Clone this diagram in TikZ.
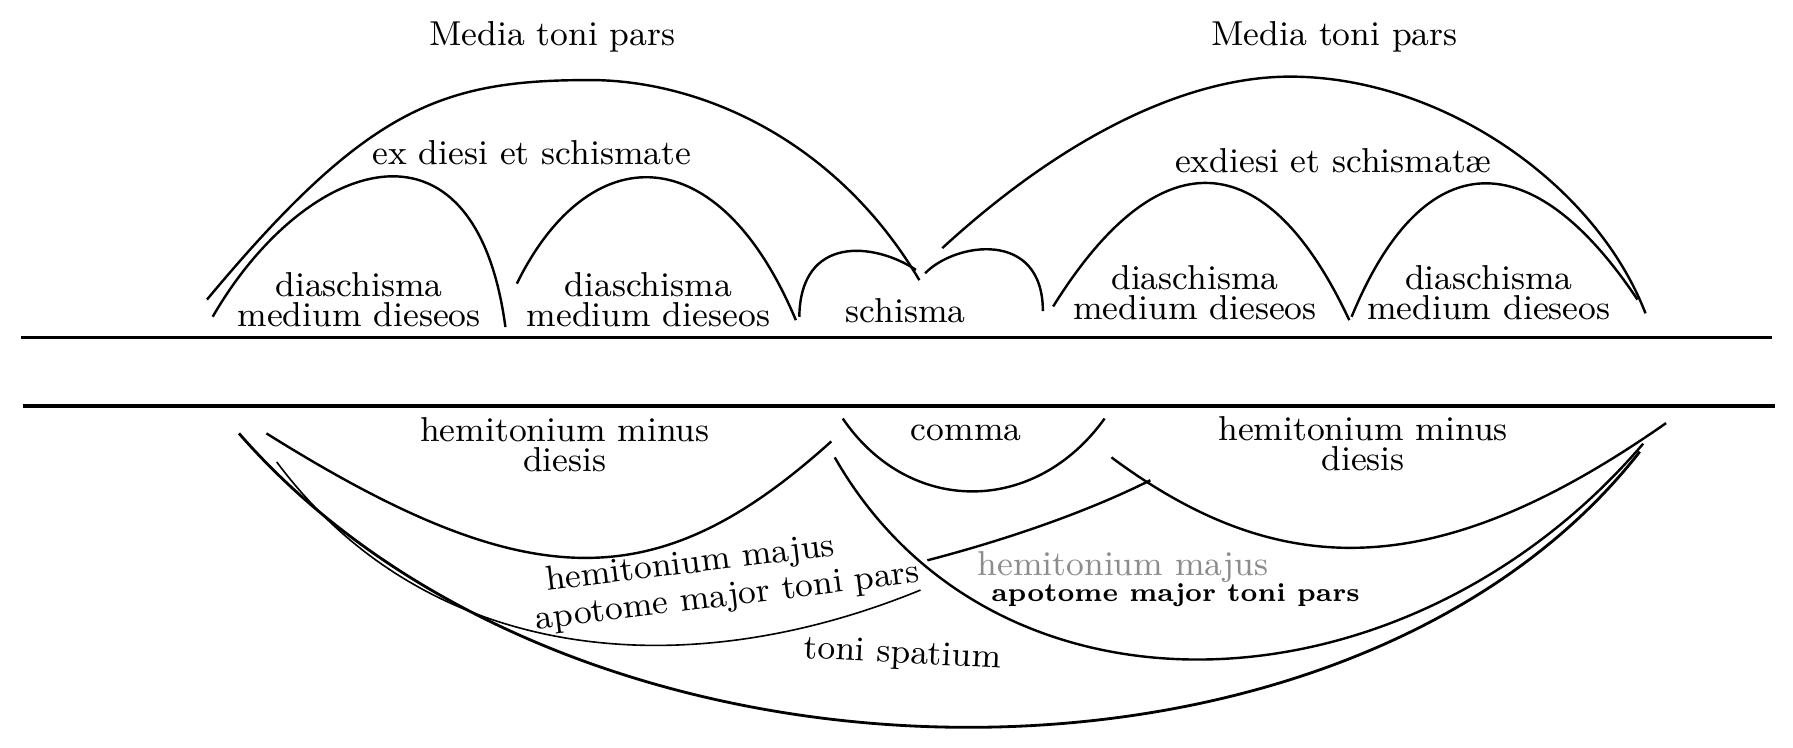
\documentclass[tikz,border=0pt]{standalone}
\usetikzlibrary{positioning}

\begin{document}
\begin{tikzpicture}[x=0.01cm, y=-0.01cm,
    lbl/.style={font=\fontsize{8.6}{7.4}\selectfont, align=center, inner sep=0pt},
    small/.style={font=\fontsize{6.5}{7.0}\selectfont\bfseries, inner sep=0pt},
    arcline/.style={line width=0.6pt},
    thinline/.style={line width=0.4pt},
    rule/.style={line width=0.8pt}]

    \useasboundingbox (0,0) rectangle (1568,654);

    % Draw the two rules
    \draw[rule] (18,295) -- (1550,295);
    \draw[rule] (20,355) -- (1552,355);

    % Draw upper labels
    \node[lbl, anchor=base] (media1) at (483,39.4) {Media toni pars};
    \node[lbl, anchor=base] (media2) at (1167,39.4) {Media toni pars};
    \node[lbl, anchor=base] (exds1) at (465,144) {ex diesi et schismate};
    \node[lbl, anchor=base] (exds2) at (1166,151) {exdiesi et schismat\ae};
    \node[lbl] (dia1) at (314,262) {diaschisma\\medium dieseos};
    \node[lbl] (dia2) at (567,262) {diaschisma\\medium dieseos};
    \node[lbl, anchor=base] (schisma) at (792,282) {schisma};
    \node[lbl] (dia3) at (1045,256) {diaschisma\\medium dieseos};
    \node[lbl] (dia4) at (1302,256) {diaschisma\\medium dieseos};

    % Draw upper arcs
    \draw[arcline] (181,262) .. controls (321,94) and (386,70) .. (516,70)
                             .. controls (610,70) and (730,120) .. (804,245);
    \draw[arcline] (824,217) .. controls (944,107) and (1050,67) .. (1128,67)
                             .. controls (1260,67) and (1395,160) .. (1439,274);
    \draw[arcline] (186,277) .. controls (265,140) and (415,85) .. (442,286);
    \draw[arcline] (452,248) .. controls (515,120) and (628,118) .. (696,280);
    \draw[arcline] (699,277) .. controls (700,205) and (765,212) .. (801,236);
    \draw[arcline] (809,239) .. controls (835,212) and (912,200) .. (912,272);
    \draw[arcline] (921,268) .. controls (1012,122) and (1106,122) .. (1180,280);
    \draw[arcline] (1182,277) .. controls (1245,124) and (1340,124) .. (1432,262);

    % Draw lower labels
    \node[lbl] (minus1) at (494,389) {hemitonium minus\\diesis};
    \node[lbl, anchor=base] (comma) at (845,385.5) {comma};
    \node[lbl] (minus2) at (1192,388) {hemitonium minus\\diesis};
    \node[lbl, align=left, anchor=west, rotate=7] (majus1) at (466,527)
        {\hspace*{0.13cm}hemitonium majus\\[0.8pt]apotome major toni pars};
    \node[lbl, anchor=base, text=black!45] (majus2) at (982,503) {hemitonium majus};
    \node[small, anchor=base] (apot2) at (1028,526) {apotome major toni pars};
    \node[lbl, anchor=base, rotate=-3] (spatium) at (789,580) {toni spatium};

    % Draw lower arcs
    \draw[line width=0.7pt] (209,379) .. controls (505,718) and (1180,720) .. (1434,395);
    \draw[thinline] (242,404) .. controls (375,582) and (600,600) .. (805,516);
    \draw[arcline] (233,379) .. controls (463,523) and (575,523) .. (727,386);
    \draw[arcline] (737,366) .. controls (795,451) and (905,451) .. (966,366);
    \draw[arcline] (972,400) .. controls (1120,510) and (1257,510) .. (1457,370);
    \draw[arcline] (730,400) .. controls (870,645) and (1230,630) .. (1437,388);
    \draw[arcline] (811,490) .. controls (880,472) and (950,448) .. (1006,420);

\end{tikzpicture}
\end{document}
